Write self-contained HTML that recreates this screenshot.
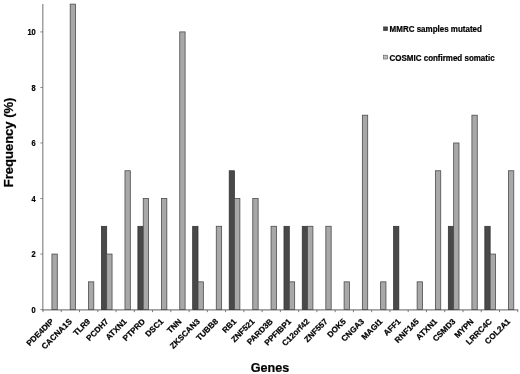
<!DOCTYPE html>
<html><head><meta charset="utf-8"><title>Chart</title><style>html,body{margin:0;padding:0;background:#fff}svg{display:block}text{stroke:#000;stroke-width:.22px}</style></head><body>
<svg width="520" height="374" viewBox="0 0 520 374" font-family="Liberation Sans, Arial, sans-serif" font-weight="bold">
<rect width="520" height="374" fill="#fff"/>
<line x1="42.85" y1="4" x2="42.85" y2="310.35" stroke="#707070" stroke-width="1"/>
<line x1="42.35" y1="309.85" x2="518.26" y2="309.85" stroke="#808080" stroke-width="1.1"/>
<line x1="40.4" y1="309.60" x2="43.0" y2="309.60" stroke="#787878" stroke-width="0.9"/>
<text transform="translate(35.7,313.00) scale(0.88,1)" font-size="8.5" text-anchor="end" fill="#000">0</text>
<line x1="40.4" y1="254.06" x2="43.0" y2="254.06" stroke="#787878" stroke-width="0.9"/>
<text transform="translate(35.7,257.46) scale(0.88,1)" font-size="8.5" text-anchor="end" fill="#000">2</text>
<line x1="40.4" y1="198.52" x2="43.0" y2="198.52" stroke="#787878" stroke-width="0.9"/>
<text transform="translate(35.7,201.92) scale(0.88,1)" font-size="8.5" text-anchor="end" fill="#000">4</text>
<line x1="40.4" y1="142.98" x2="43.0" y2="142.98" stroke="#787878" stroke-width="0.9"/>
<text transform="translate(35.7,146.38) scale(0.88,1)" font-size="8.5" text-anchor="end" fill="#000">6</text>
<line x1="40.4" y1="87.44" x2="43.0" y2="87.44" stroke="#787878" stroke-width="0.9"/>
<text transform="translate(35.7,90.84) scale(0.88,1)" font-size="8.5" text-anchor="end" fill="#000">8</text>
<line x1="40.4" y1="31.90" x2="43.0" y2="31.90" stroke="#787878" stroke-width="0.9"/>
<text transform="translate(35.7,35.30) scale(0.88,1)" font-size="8.5" text-anchor="end" fill="#000">10</text>
<line x1="43.00" y1="309.85" x2="43.00" y2="312.15000000000003" stroke="#7a7a7a" stroke-width="1"/>
<line x1="61.26" y1="309.85" x2="61.26" y2="312.15000000000003" stroke="#7a7a7a" stroke-width="1"/>
<line x1="79.52" y1="309.85" x2="79.52" y2="312.15000000000003" stroke="#7a7a7a" stroke-width="1"/>
<line x1="97.78" y1="309.85" x2="97.78" y2="312.15000000000003" stroke="#7a7a7a" stroke-width="1"/>
<line x1="116.04" y1="309.85" x2="116.04" y2="312.15000000000003" stroke="#7a7a7a" stroke-width="1"/>
<line x1="134.30" y1="309.85" x2="134.30" y2="312.15000000000003" stroke="#7a7a7a" stroke-width="1"/>
<line x1="152.56" y1="309.85" x2="152.56" y2="312.15000000000003" stroke="#7a7a7a" stroke-width="1"/>
<line x1="170.82" y1="309.85" x2="170.82" y2="312.15000000000003" stroke="#7a7a7a" stroke-width="1"/>
<line x1="189.08" y1="309.85" x2="189.08" y2="312.15000000000003" stroke="#7a7a7a" stroke-width="1"/>
<line x1="207.34" y1="309.85" x2="207.34" y2="312.15000000000003" stroke="#7a7a7a" stroke-width="1"/>
<line x1="225.60" y1="309.85" x2="225.60" y2="312.15000000000003" stroke="#7a7a7a" stroke-width="1"/>
<line x1="243.86" y1="309.85" x2="243.86" y2="312.15000000000003" stroke="#7a7a7a" stroke-width="1"/>
<line x1="262.12" y1="309.85" x2="262.12" y2="312.15000000000003" stroke="#7a7a7a" stroke-width="1"/>
<line x1="280.38" y1="309.85" x2="280.38" y2="312.15000000000003" stroke="#7a7a7a" stroke-width="1"/>
<line x1="298.64" y1="309.85" x2="298.64" y2="312.15000000000003" stroke="#7a7a7a" stroke-width="1"/>
<line x1="316.90" y1="309.85" x2="316.90" y2="312.15000000000003" stroke="#7a7a7a" stroke-width="1"/>
<line x1="335.16" y1="309.85" x2="335.16" y2="312.15000000000003" stroke="#7a7a7a" stroke-width="1"/>
<line x1="353.42" y1="309.85" x2="353.42" y2="312.15000000000003" stroke="#7a7a7a" stroke-width="1"/>
<line x1="371.68" y1="309.85" x2="371.68" y2="312.15000000000003" stroke="#7a7a7a" stroke-width="1"/>
<line x1="389.94" y1="309.85" x2="389.94" y2="312.15000000000003" stroke="#7a7a7a" stroke-width="1"/>
<line x1="408.20" y1="309.85" x2="408.20" y2="312.15000000000003" stroke="#7a7a7a" stroke-width="1"/>
<line x1="426.46" y1="309.85" x2="426.46" y2="312.15000000000003" stroke="#7a7a7a" stroke-width="1"/>
<line x1="444.72" y1="309.85" x2="444.72" y2="312.15000000000003" stroke="#7a7a7a" stroke-width="1"/>
<line x1="462.98" y1="309.85" x2="462.98" y2="312.15000000000003" stroke="#7a7a7a" stroke-width="1"/>
<line x1="481.24" y1="309.85" x2="481.24" y2="312.15000000000003" stroke="#7a7a7a" stroke-width="1"/>
<line x1="499.50" y1="309.85" x2="499.50" y2="312.15000000000003" stroke="#7a7a7a" stroke-width="1"/>
<line x1="517.76" y1="309.85" x2="517.76" y2="312.15000000000003" stroke="#7a7a7a" stroke-width="1"/>
<rect x="51.93" y="254.06" width="5.35" height="55.54" fill="#a8a8a8" stroke="#4c4c4c" stroke-width="0.8"/>
<rect x="70.19" y="4.13" width="5.35" height="305.47" fill="#a8a8a8" stroke="#4c4c4c" stroke-width="0.8"/>
<rect x="88.45" y="281.83" width="5.35" height="27.77" fill="#a8a8a8" stroke="#4c4c4c" stroke-width="0.8"/>
<rect x="101.36" y="226.29" width="5.35" height="83.31" fill="#494949" stroke="#2e2e2e" stroke-width="0.7"/>
<rect x="106.71" y="254.06" width="5.35" height="55.54" fill="#a8a8a8" stroke="#4c4c4c" stroke-width="0.8"/>
<rect x="124.97" y="170.75" width="5.35" height="138.85" fill="#a8a8a8" stroke="#4c4c4c" stroke-width="0.8"/>
<rect x="137.88" y="226.29" width="5.35" height="83.31" fill="#494949" stroke="#2e2e2e" stroke-width="0.7"/>
<rect x="143.23" y="198.52" width="5.35" height="111.08" fill="#a8a8a8" stroke="#4c4c4c" stroke-width="0.8"/>
<rect x="161.49" y="198.52" width="5.35" height="111.08" fill="#a8a8a8" stroke="#4c4c4c" stroke-width="0.8"/>
<rect x="179.75" y="31.90" width="5.35" height="277.70" fill="#a8a8a8" stroke="#4c4c4c" stroke-width="0.8"/>
<rect x="192.66" y="226.29" width="5.35" height="83.31" fill="#494949" stroke="#2e2e2e" stroke-width="0.7"/>
<rect x="198.01" y="281.83" width="5.35" height="27.77" fill="#a8a8a8" stroke="#4c4c4c" stroke-width="0.8"/>
<rect x="216.27" y="226.29" width="5.35" height="83.31" fill="#a8a8a8" stroke="#4c4c4c" stroke-width="0.8"/>
<rect x="229.18" y="170.75" width="5.35" height="138.85" fill="#494949" stroke="#2e2e2e" stroke-width="0.7"/>
<rect x="234.53" y="198.52" width="5.35" height="111.08" fill="#a8a8a8" stroke="#4c4c4c" stroke-width="0.8"/>
<rect x="252.79" y="198.52" width="5.35" height="111.08" fill="#a8a8a8" stroke="#4c4c4c" stroke-width="0.8"/>
<rect x="271.05" y="226.29" width="5.35" height="83.31" fill="#a8a8a8" stroke="#4c4c4c" stroke-width="0.8"/>
<rect x="283.96" y="226.29" width="5.35" height="83.31" fill="#494949" stroke="#2e2e2e" stroke-width="0.7"/>
<rect x="289.31" y="281.83" width="5.35" height="27.77" fill="#a8a8a8" stroke="#4c4c4c" stroke-width="0.8"/>
<rect x="302.22" y="226.29" width="5.35" height="83.31" fill="#494949" stroke="#2e2e2e" stroke-width="0.7"/>
<rect x="307.57" y="226.29" width="5.35" height="83.31" fill="#a8a8a8" stroke="#4c4c4c" stroke-width="0.8"/>
<rect x="325.83" y="226.29" width="5.35" height="83.31" fill="#a8a8a8" stroke="#4c4c4c" stroke-width="0.8"/>
<rect x="344.09" y="281.83" width="5.35" height="27.77" fill="#a8a8a8" stroke="#4c4c4c" stroke-width="0.8"/>
<rect x="362.35" y="115.21" width="5.35" height="194.39" fill="#a8a8a8" stroke="#4c4c4c" stroke-width="0.8"/>
<rect x="380.61" y="281.83" width="5.35" height="27.77" fill="#a8a8a8" stroke="#4c4c4c" stroke-width="0.8"/>
<rect x="393.52" y="226.29" width="5.35" height="83.31" fill="#494949" stroke="#2e2e2e" stroke-width="0.7"/>
<rect x="417.13" y="281.83" width="5.35" height="27.77" fill="#a8a8a8" stroke="#4c4c4c" stroke-width="0.8"/>
<rect x="435.39" y="170.75" width="5.35" height="138.85" fill="#a8a8a8" stroke="#4c4c4c" stroke-width="0.8"/>
<rect x="448.30" y="226.29" width="5.35" height="83.31" fill="#494949" stroke="#2e2e2e" stroke-width="0.7"/>
<rect x="453.65" y="142.98" width="5.35" height="166.62" fill="#a8a8a8" stroke="#4c4c4c" stroke-width="0.8"/>
<rect x="471.91" y="115.21" width="5.35" height="194.39" fill="#a8a8a8" stroke="#4c4c4c" stroke-width="0.8"/>
<rect x="484.82" y="226.29" width="5.35" height="83.31" fill="#494949" stroke="#2e2e2e" stroke-width="0.7"/>
<rect x="490.17" y="254.06" width="5.35" height="55.54" fill="#a8a8a8" stroke="#4c4c4c" stroke-width="0.8"/>
<rect x="508.43" y="170.75" width="5.35" height="138.85" fill="#a8a8a8" stroke="#4c4c4c" stroke-width="0.8"/>
<text transform="translate(54.28,322.00) rotate(-45)" font-size="8.15" text-anchor="end" fill="#000">PDE4DIP</text>
<text transform="translate(72.54,322.00) rotate(-45)" font-size="8.15" text-anchor="end" fill="#000">CACNA1S</text>
<text transform="translate(90.80,322.00) rotate(-45)" font-size="8.15" text-anchor="end" fill="#000">TLR9</text>
<text transform="translate(109.06,322.00) rotate(-45)" font-size="8.15" text-anchor="end" fill="#000">PCDH7</text>
<text transform="translate(127.32,322.00) rotate(-45)" font-size="8.15" text-anchor="end" fill="#000">ATXN1</text>
<text transform="translate(145.58,322.00) rotate(-45)" font-size="8.15" text-anchor="end" fill="#000">PTPRD</text>
<text transform="translate(163.84,322.00) rotate(-45)" font-size="8.15" text-anchor="end" fill="#000">DSC1</text>
<text transform="translate(182.10,322.00) rotate(-45)" font-size="8.15" text-anchor="end" fill="#000">TNN</text>
<text transform="translate(200.36,322.00) rotate(-45)" font-size="8.15" text-anchor="end" fill="#000">ZKSCAN3</text>
<text transform="translate(218.62,322.00) rotate(-45)" font-size="8.15" text-anchor="end" fill="#000">TUBB8</text>
<text transform="translate(236.88,322.00) rotate(-45)" font-size="8.15" text-anchor="end" fill="#000">RB1</text>
<text transform="translate(255.14,322.00) rotate(-45)" font-size="8.15" text-anchor="end" fill="#000">ZNF521</text>
<text transform="translate(273.40,322.00) rotate(-45)" font-size="8.15" text-anchor="end" fill="#000">PARD3B</text>
<text transform="translate(291.66,322.00) rotate(-45)" font-size="8.15" text-anchor="end" fill="#000">PPFIBP1</text>
<text transform="translate(309.92,322.00) rotate(-45)" font-size="8.15" text-anchor="end" fill="#000">C12orf42</text>
<text transform="translate(328.18,322.00) rotate(-45)" font-size="8.15" text-anchor="end" fill="#000">ZNF557</text>
<text transform="translate(346.44,322.00) rotate(-45)" font-size="8.15" text-anchor="end" fill="#000">DOK5</text>
<text transform="translate(364.70,322.00) rotate(-45)" font-size="8.15" text-anchor="end" fill="#000">CNGA3</text>
<text transform="translate(382.96,322.00) rotate(-45)" font-size="8.15" text-anchor="end" fill="#000">MAGI1</text>
<text transform="translate(401.22,322.00) rotate(-45)" font-size="8.15" text-anchor="end" fill="#000">AFF1</text>
<text transform="translate(419.48,322.00) rotate(-45)" font-size="8.15" text-anchor="end" fill="#000">RNF145</text>
<text transform="translate(437.74,322.00) rotate(-45)" font-size="8.15" text-anchor="end" fill="#000">ATXN1</text>
<text transform="translate(456.00,322.00) rotate(-45)" font-size="8.15" text-anchor="end" fill="#000">CSMD3</text>
<text transform="translate(474.26,322.00) rotate(-45)" font-size="8.15" text-anchor="end" fill="#000">MYPN</text>
<text transform="translate(492.52,322.00) rotate(-45)" font-size="8.15" text-anchor="end" fill="#000">LRRC4C</text>
<text transform="translate(510.78,322.00) rotate(-45)" font-size="8.15" text-anchor="end" fill="#000">COL2A1</text>
<text x="270" y="371.5" font-size="13" textLength="38.5" lengthAdjust="spacingAndGlyphs" text-anchor="middle" fill="#000">Genes</text>
<text transform="translate(12.8,142.4) rotate(-90)" font-size="13.2" textLength="89.6" lengthAdjust="spacingAndGlyphs" text-anchor="middle" fill="#000">Frequency (%)</text>
<rect x="383.6" y="26.9" width="4" height="3.8" fill="#494949" stroke="#2e2e2e" stroke-width="0.6"/>
<text x="389.6" y="32.2" font-size="8.4" textLength="92.3" lengthAdjust="spacingAndGlyphs" fill="#000">MMRC samples mutated</text>
<rect x="383.6" y="55.2" width="4" height="3.8" fill="#c0c0c0" stroke="#555" stroke-width="0.6"/>
<text x="389.6" y="60.8" font-size="8.4" textLength="105" lengthAdjust="spacingAndGlyphs" fill="#000">COSMIC confirmed somatic</text>
</svg>
</body></html>
